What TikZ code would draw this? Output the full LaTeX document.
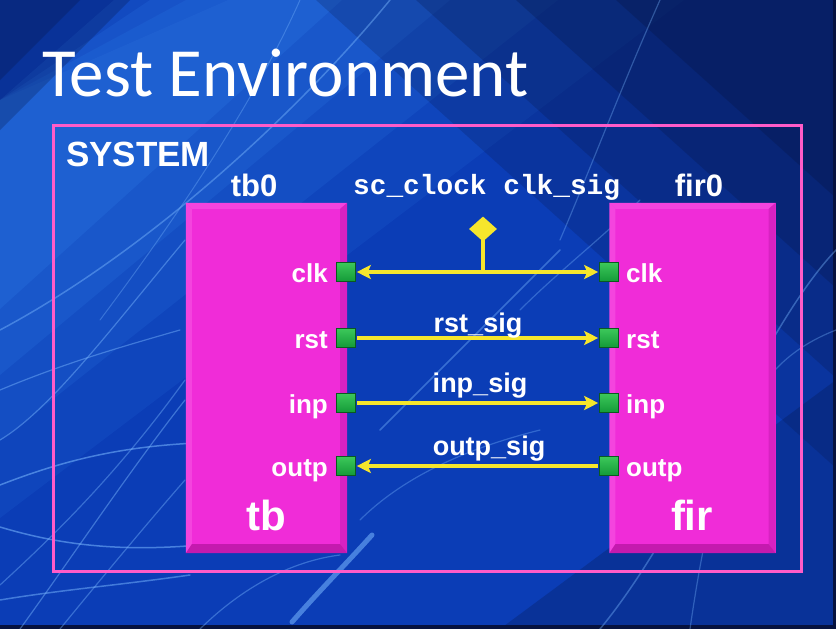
\documentclass[tikz,border=0pt]{standalone}
\usepackage{fontspec}
\setmainfont{Liberation Sans}
\newfontfamily\titlefont{Carlito}
\newfontfamily\codefont{Liberation Mono}
\usetikzlibrary{arrows.meta,shapes.geometric,calc}
\definecolor{bgbase}{HTML}{0B3DB6}
\definecolor{bgdark}{HTML}{06123F}
\definecolor{bgbright}{HTML}{3A90F8}
\definecolor{streak}{HTML}{7AB8FF}
\definecolor{syspink}{HTML}{FF5CC8}
\definecolor{blockfill}{HTML}{F02CD8}
\definecolor{blockdark}{HTML}{C41AAE}
\definecolor{blockmid}{HTML}{D822C2}
\definecolor{blocklight}{HTML}{F444DE}
\definecolor{portgreen}{HTML}{149A38}
\definecolor{portlight}{HTML}{3CC85A}
\definecolor{portedge}{HTML}{0A5A20}
\definecolor{sigyellow}{HTML}{F6E62C}
\newcommand\blockbevel[1]{%
  \fill[blocklight] (#1.north west) -- (#1.north east) -- ($(#1.north east)+(-7,6)$) -- ($(#1.north west)+(6,6)$) -- cycle;
  \fill[blocklight] (#1.north west) -- (#1.south west) -- ($(#1.south west)+(6,-9)$) -- ($(#1.north west)+(6,6)$) -- cycle;
  \fill[blockmid] (#1.north east) -- (#1.south east) -- ($(#1.south east)+(-7,-9)$) -- ($(#1.north east)+(-7,6)$) -- cycle;
  \fill[blockdark] (#1.south west) -- (#1.south east) -- ($(#1.south east)+(-7,-9)$) -- ($(#1.south west)+(6,-9)$) -- cycle;
}
\begin{document}
\begin{tikzpicture}[x=1pt,y=-1pt,
  block/.style={rectangle, fill=blockfill, inner sep=0pt, minimum height=350pt},
  port/.style={rectangle, draw=portedge, line width=0.6pt, top color=portlight, bottom color=portgreen, minimum size=19pt, inner sep=0pt},
  plab/.style={text=white, font=\fontsize{26}{28}\selectfont\bfseries, inner sep=0pt},
  slab/.style={text=white, font=\fontsize{27}{29}\selectfont\bfseries, inner sep=0pt, anchor=base},
  ilab/.style={text=white, font=\fontsize{31}{33}\selectfont\bfseries, inner sep=0pt, anchor=base},
  blab/.style={text=white, font=\fontsize{42}{44}\selectfont\bfseries, inner sep=0pt, anchor=base},
  sig/.style={draw=sigyellow, line width=4.5pt, shorten >=1pt, shorten <=1pt},
  streakline/.style={draw=streak, line cap=round}
]
\useasboundingbox (0,0) rectangle (836,629);
% ---------- background ----------
\fill[bgbase] (0,0) rectangle (836,629);
\foreach \d/\o in {760/0.10,620/0.12,500/0.14,380/0.16}
  \fill[bgbright, opacity=\o] (0,100) -- (0,{100+\d*0.55}) -- ({\d*0.9},0) -- ({\d*0.3},0) -- cycle;
\foreach \d/\o in {520/0.2,420/0.22,320/0.25,220/0.28}
  \fill[bgdark, opacity=\o] (836,0) -- ({836-\d},0) -- (836,{\d*0.9}) -- cycle;
\foreach \d/\o in {130/0.25,80/0.25}
  \fill[bgdark, opacity=\o] (0,0) -- (\d,0) -- (0,\d) -- cycle;
\fill[bgdark, opacity=0.25] (836,629) -- (500,629) -- (836,380) -- cycle;
\fill[bgdark] (0,625) rectangle (836,629);
\fill[bgdark] (833,0) rectangle (836,629);
% streaks
\draw[streakline, opacity=0.45, line width=1.5pt] (0,330) .. controls (150,250) and (300,110) .. (390,0);
\draw[streakline, opacity=0.35, line width=1pt] (100,320) .. controls (190,200) and (260,90) .. (300,0);
\draw[streakline, opacity=0.55, line width=5pt] (292,622) .. controls (320,590) and (345,565) .. (372,535);
\draw[streakline, opacity=0.55, line width=1.5pt] (0,485) .. controls (90,450) and (170,435) .. (330,445);
\draw[streakline, opacity=0.55, line width=1.5pt] (0,527) .. controls (60,545) and (120,552) .. (200,545);
\draw[streakline, opacity=0.5, line width=1.5pt] (0,600) .. controls (60,590) and (120,585) .. (190,575);
\draw[streakline, opacity=0.45, line width=1.2pt] (0,390) .. controls (60,365) and (110,350) .. (180,330);
\draw[streakline, opacity=0.45, line width=1.2pt] (0,440) .. controls (50,410) and (110,330) .. (185,240);
\draw[streakline, opacity=0.45, line width=1.2pt] (20,629) .. controls (70,560) and (130,470) .. (185,400);
\draw[streakline, opacity=0.4, line width=1.2pt] (60,629) .. controls (100,580) and (150,520) .. (185,480);
\draw[streakline, opacity=0.4, line width=1.2pt] (0,585) .. controls (60,530) and (120,470) .. (185,380);
\draw[streakline, opacity=0.4, line width=1.2pt] (200,629) .. controls (250,580) and (300,560) .. (340,555);
\draw[streakline, opacity=0.4, line width=1.5pt] (600,629) .. controls (690,520) and (760,330) .. (836,250);
\draw[streakline, opacity=0.35, line width=1.2pt] (660,0) .. controls (620,90) and (590,170) .. (560,240);
\draw[streakline, opacity=0.35, line width=1.2pt] (836,330) .. controls (760,360) and (720,420) .. (690,629);
\draw[streakline, opacity=0.4, line width=1.5pt] (380,430) .. controls (430,380) and (480,330) .. (560,250);
\draw[streakline, opacity=0.35, line width=1.2pt] (520,310) .. controls (560,270) and (600,240) .. (640,200);
\draw[streakline, opacity=0.35, line width=1.2pt] (360,520) .. controls (400,480) and (460,450) .. (540,430);
% ---------- title ----------
\node[text=white, inner sep=0pt, anchor=base west, font=\titlefont\fontsize{69}{71}\selectfont] (title) at (42,96) {Test Environment};
% ---------- system ----------
\node[draw=syspink, line width=3pt, inner sep=0pt, minimum width=748pt, minimum height=446pt] (system) at (427,348) {};
\node[text=white, inner sep=0pt, anchor=base west, font=\fontsize{35}{37}\selectfont\bfseries] (syslab) at (66,166) {SYSTEM};
% ---------- blocks ----------
\node[block, minimum width=161pt] (tb) at (266.5,378) {};
\node[block, minimum width=166pt] (fir) at (692.5,378) {};
\blockbevel{tb}
\blockbevel{fir}
\node[ilab] (tbinst) at (254,196) {tb0};
\node[ilab] (firinst) at (699,196) {fir0};
\node[blab] (tbname) at (266,530) {tb};
\node[blab] (firname) at (692,530) {fir};
\node[text=white, inner sep=0pt, anchor=base west, font=\codefont\fontsize{27.8}{30}\selectfont\bfseries] (clksig) at (353,194) {sc\_clock clk\_sig};
% ---------- ports ----------
\foreach \n/\y in {clk/272,rst/338,inp/403,outp/466}{
  \node[port] (tb\n) at (346,\y) {};
  \node[port] (fir\n) at (609,\y) {};
  \node[plab, anchor=base east] (ltb\n) at ($(tb\n)+(-18,10)$) {\n};
  \node[plab, anchor=base west] (lfir\n) at ($(fir\n)+(17,10)$) {\n};
}
% ---------- connectors ----------
\node[diamond, fill=sigyellow, minimum width=28pt, minimum height=25pt, inner sep=0pt] (clkd) at (483,229) {};
\coordinate (clkj) at (483,272);
\draw[draw=sigyellow, line width=4.5pt] (clkd.center) -- (clkj);
\draw[sig, {Stealth[length=14pt,width=14pt,inset=3pt]}-{Stealth[length=14pt,width=14pt,inset=3pt]}] (tbclk.east) -- (firclk.west);
\draw[sig, -{Stealth[length=14pt,width=14pt,inset=3pt]}] (tbrst.east) -- (firrst.west);
\draw[sig, -{Stealth[length=14pt,width=14pt,inset=3pt]}] (tbinp.east) -- (firinp.west);
\draw[sig, -{Stealth[length=14pt,width=14pt,inset=3pt]}] (firoutp.west) -- (tboutp.east);
\node[slab] (rstsig) at (478,332) {rst\_sig};
\node[slab] (inpsig) at (480,392) {inp\_sig};
\node[slab] (outpsig) at (489,455) {outp\_sig};
\end{tikzpicture}
\end{document}
